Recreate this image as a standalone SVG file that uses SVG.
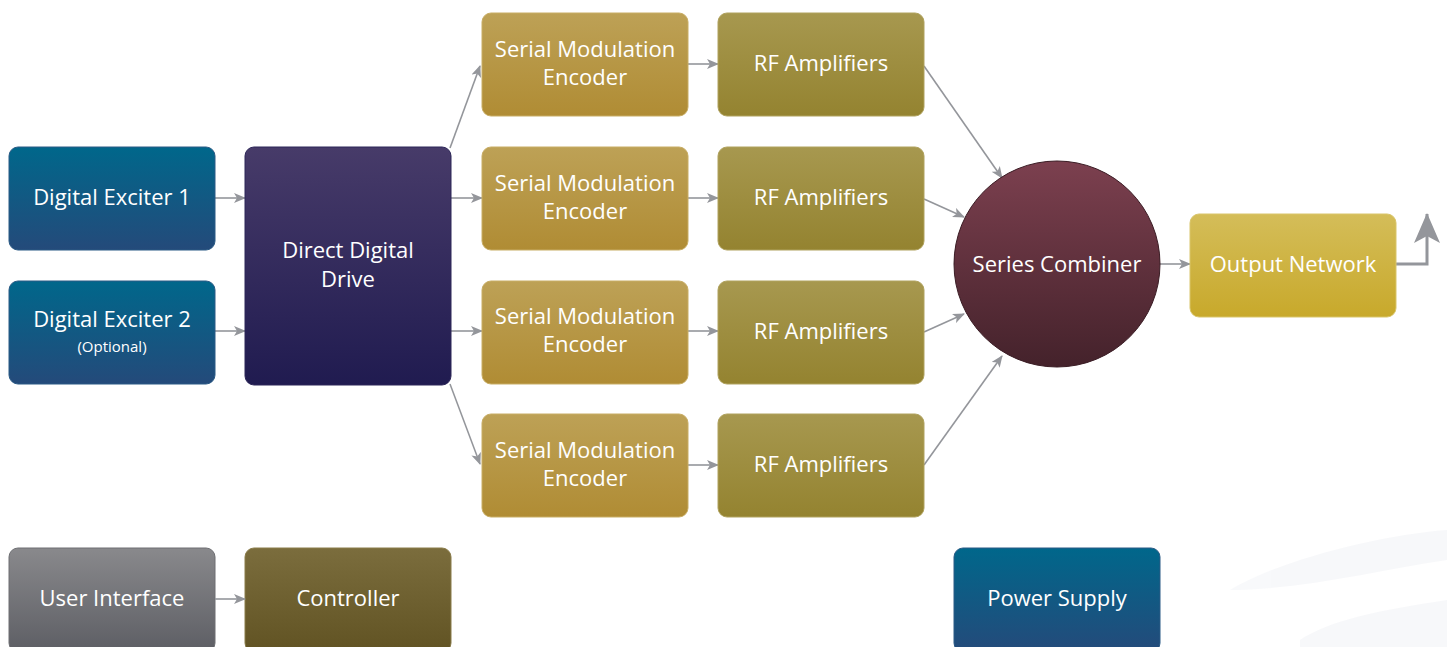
<svg xmlns="http://www.w3.org/2000/svg" width="1447" height="647" viewBox="0 0 1447 647">
<defs>
<linearGradient id="gBlue" x1="0" y1="0" x2="0" y2="1"><stop offset="0" stop-color="#00678b"/><stop offset="1" stop-color="#244a7a"/></linearGradient>
<linearGradient id="gDDD" x1="0" y1="0" x2="0" y2="1"><stop offset="0" stop-color="#473b69"/><stop offset="1" stop-color="#201b50"/></linearGradient>
<linearGradient id="gSME" x1="0" y1="0" x2="0" y2="1"><stop offset="0" stop-color="#bda156"/><stop offset="1" stop-color="#b08c34"/></linearGradient>
<linearGradient id="gRF" x1="0" y1="0" x2="0" y2="1"><stop offset="0" stop-color="#a7984f"/><stop offset="1" stop-color="#948330"/></linearGradient>
<linearGradient id="gSC" x1="0" y1="0" x2="0" y2="1"><stop offset="0" stop-color="#7c404f"/><stop offset="1" stop-color="#44222b"/></linearGradient>
<linearGradient id="gOut" x1="0" y1="0" x2="0" y2="1"><stop offset="0" stop-color="#d4bd59"/><stop offset="1" stop-color="#c8a92b"/></linearGradient>
<linearGradient id="gUI" x1="0" y1="0" x2="0" y2="1"><stop offset="0" stop-color="#89898c"/><stop offset="1" stop-color="#5d5e64"/></linearGradient>
<linearGradient id="gCtl" x1="0" y1="0" x2="0" y2="1"><stop offset="0" stop-color="#7b6d3d"/><stop offset="1" stop-color="#615323"/></linearGradient>
<marker id="arr" viewBox="0 0 12 10" refX="11" refY="5" markerWidth="12" markerHeight="10" markerUnits="userSpaceOnUse" orient="auto">
<path d="M0,0 L12,5 L0,10 L3,5 Z" fill="#94969b"/>
</marker>
<marker id="bigArr" viewBox="0 0 30 26" refX="29" refY="13" markerWidth="30" markerHeight="26" markerUnits="userSpaceOnUse" orient="auto">
<path d="M0,0 L30,13 L0,26 L7,13 Z" fill="#94969b"/>
</marker>
</defs>
<style>
text{font-family:"Open Sans","Noto Sans","Liberation Sans",sans-serif;font-size:22px;fill:#ffffff;text-anchor:middle}
.small{font-size:15px}
.box{stroke-width:1}
.conn line,.conn polyline{stroke:#94969b;stroke-width:1.6;fill:none}
</style>
<rect width="1447" height="647" fill="#ffffff"/>
<g id="bg" fill="#f5f6f9" opacity="0.7">
<path d="M1230,590 C1280,560 1380,535 1447,530 L1447,560 C1380,570 1300,590 1230,590 Z"/>
<path d="M1300,640 C1330,620 1380,610 1447,600 L1447,647 L1300,647 Z"/>
</g>
<g class="conn">
<line x1="215" y1="198" x2="245" y2="198" marker-end="url(#arr)"/>
<line x1="215" y1="331" x2="245" y2="331" marker-end="url(#arr)"/>
<line x1="450" y1="148" x2="480" y2="66" marker-end="url(#arr)"/>
<line x1="451" y1="198" x2="482" y2="198" marker-end="url(#arr)"/>
<line x1="451" y1="331" x2="482" y2="331" marker-end="url(#arr)"/>
<line x1="450" y1="384" x2="480" y2="464" marker-end="url(#arr)"/>
<line x1="688" y1="64" x2="718" y2="64" marker-end="url(#arr)"/>
<line x1="688" y1="198" x2="718" y2="198" marker-end="url(#arr)"/>
<line x1="688" y1="331" x2="718" y2="331" marker-end="url(#arr)"/>
<line x1="688" y1="465" x2="718" y2="465" marker-end="url(#arr)"/>
<line x1="924" y1="66" x2="1002" y2="178" marker-end="url(#arr)"/>
<line x1="924" y1="199" x2="964" y2="217" marker-end="url(#arr)"/>
<line x1="924" y1="332" x2="964" y2="314" marker-end="url(#arr)"/>
<line x1="924" y1="465" x2="1002" y2="356" marker-end="url(#arr)"/>
<line x1="1160" y1="264" x2="1190" y2="264" marker-end="url(#arr)"/>
<polyline points="1396,264 1427,264 1427,214" style="stroke-width:3" marker-end="url(#bigArr)"/>
</g>
<g id="exciter1"><rect class="box" x="9" y="147" width="206" height="103" rx="9" fill="url(#gBlue)" stroke="#2a5a85"/><text x="112" y="205">Digital Exciter 1</text></g>
<g id="exciter2"><rect class="box" x="9" y="281" width="206" height="103" rx="9" fill="url(#gBlue)" stroke="#2a5a85"/><text x="112" y="327">Digital Exciter 2</text><text class="small" x="112" y="352">(Optional)</text></g>
<g id="ddd"><rect class="box" x="245" y="147" width="206" height="238" rx="9" fill="url(#gDDD)" stroke="#2c2658"/><text x="348" y="258">Direct Digital</text><text x="348" y="287">Drive</text></g>
<g id="sme1"><rect class="box" x="482" y="13" width="206" height="103" rx="9" fill="url(#gSME)" stroke="#c8ad65"/><text x="585" y="57">Serial Modulation</text><text x="585" y="85">Encoder</text></g>
<g id="sme2"><rect class="box" x="482" y="147" width="206" height="103" rx="9" fill="url(#gSME)" stroke="#c8ad65"/><text x="585" y="191">Serial Modulation</text><text x="585" y="219">Encoder</text></g>
<g id="sme3"><rect class="box" x="482" y="281" width="206" height="103" rx="9" fill="url(#gSME)" stroke="#c8ad65"/><text x="585" y="324">Serial Modulation</text><text x="585" y="352">Encoder</text></g>
<g id="sme4"><rect class="box" x="482" y="414" width="206" height="103" rx="9" fill="url(#gSME)" stroke="#c8ad65"/><text x="585" y="458">Serial Modulation</text><text x="585" y="486">Encoder</text></g>
<g id="rf1"><rect class="box" x="718" y="13" width="206" height="103" rx="9" fill="url(#gRF)" stroke="#b0a25e"/><text x="821" y="71">RF Amplifiers</text></g>
<g id="rf2"><rect class="box" x="718" y="147" width="206" height="103" rx="9" fill="url(#gRF)" stroke="#b0a25e"/><text x="821" y="205">RF Amplifiers</text></g>
<g id="rf3"><rect class="box" x="718" y="281" width="206" height="103" rx="9" fill="url(#gRF)" stroke="#b0a25e"/><text x="821" y="339">RF Amplifiers</text></g>
<g id="rf4"><rect class="box" x="718" y="414" width="206" height="103" rx="9" fill="url(#gRF)" stroke="#b0a25e"/><text x="821" y="472">RF Amplifiers</text></g>
<g id="combiner"><circle cx="1057" cy="264" r="103" fill="url(#gSC)" stroke="#3a1c24" stroke-width="1"/><text x="1057" y="272">Series Combiner</text></g>
<g id="output"><rect class="box" x="1190" y="214" width="206" height="103" rx="9" fill="url(#gOut)" stroke="#d9c56b"/><text x="1293" y="272">Output Network</text></g>
<g id="ui"><rect class="box" x="9" y="548" width="206" height="104" rx="9" fill="url(#gUI)" stroke="#6e6f73"/><text x="112" y="606">User Interface</text></g>
<g id="controller"><rect class="box" x="245" y="548" width="206" height="104" rx="9" fill="url(#gCtl)" stroke="#8a7c4a"/><text x="348" y="606">Controller</text></g>
<g id="power"><rect class="box" x="954" y="548" width="206" height="104" rx="9" fill="url(#gBlue)" stroke="#2a5a85"/><text x="1057" y="606">Power Supply</text></g>
<g id="ui-ctl-conn" class="conn"><line x1="215" y1="599" x2="245" y2="599" marker-end="url(#arr)"/></g>
</svg>
